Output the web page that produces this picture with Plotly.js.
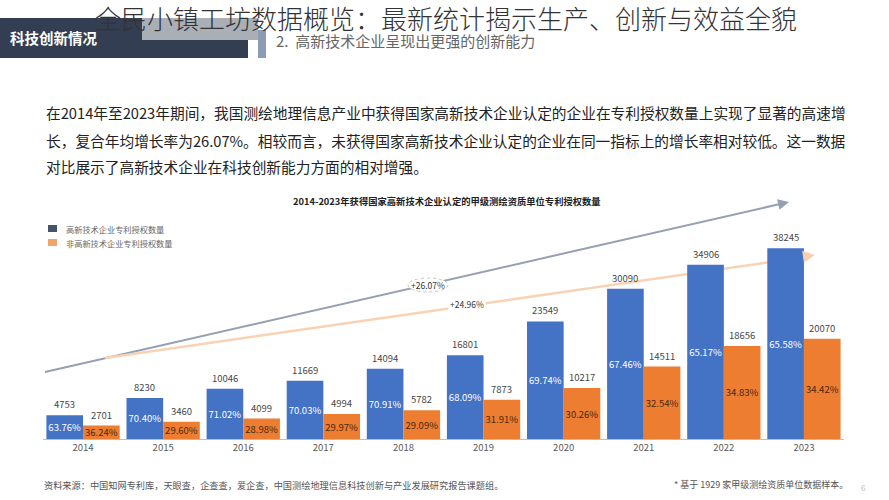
<!DOCTYPE html>
<html><head><meta charset="utf-8">
<script src="https://cdn.plot.ly/plotly-3.0.1.min.js"></script>
<style>html,body{margin:0;padding:0;background:#fff;}#chart{width:889px;height:500px;}</style>
</head><body><div id="chart"></div>
<script>
// ---- data ----
const years = ['2014','2015','2016','2017','2018','2019','2020','2021','2022','2023'];
const highTech = [4753, 8230, 10046, 11669, 14094, 16801, 23549, 30090, 34906, 38245];
const nonHighTech = [2701, 3460, 4099, 4994, 5782, 7873, 10217, 14511, 18656, 20070];
const highTechShare = ['63.76%','70.40%','71.02%','70.03%','70.91%','68.09%','69.74%','67.46%','65.17%','65.58%'];
const nonHighTechShare = ['36.24%','29.60%','28.98%','29.97%','29.09%','31.91%','30.26%','32.54%','34.83%','34.42%'];
const seriesNames = ['高新技术企业专利授权数量', '非高新技术企业专利授权数量'];
const growthLabels = ['+26.07%', '+24.96%'];

const pageTitle = '全民小镇工坊数据概览：最新统计揭示生产、创新与效益全貌';
const sectionTag = '科技创新情况';
const subTitle = '2.  高新技术企业呈现出更强的创新能力';
const paragraph = [
  '在2014年至2023年期间，我国测绘地理信息产业中获得国家高新技术企业认定的企业在专利授权数量上实现了显著的高速增',
  '长，复合年均增长率为26.07%。相较而言，未获得国家高新技术企业认定的企业在同一指标上的增长率相对较低。这一数据',
  '对比展示了高新技术企业在科技创新能力方面的相对增强。'
];
const chartTitle = '2014-2023年获得国家高新技术企业认定的甲级测绘资质单位专利授权数量';
const sourceNote = '资料来源：中国知网专利库，天眼查，企查查，爱企查，中国测绘地理信息科技创新与产业发展研究报告课题组。';
const sampleNote = '* 基于 1929 家甲级测绘资质单位数据样本。';
const pageNo = '6';

// ---- helpers ----
const W = 889, H = 500;
const px = x => x / W, py = y => 1 - y / H;
const FONT = '"Noto Sans CJK SC", "Noto Sans", sans-serif';
const BLUE = '#4472C4', ORANGE = '#ED7D31';
const HALF = 18.3;
const idx = years.map((_, i) => i);

const traces = [
  {type:'bar', x:idx, y:highTech, name:seriesNames[0], marker:{color:BLUE},
   text:highTechShare, textposition:'inside', insidetextanchor:'middle', textangle:0,
   constraintext:'none', textfont:{family:FONT, size:9.5, color:'#ffffff'}, hoverinfo:'skip'},
  {type:'bar', x:idx, y:nonHighTech, name:seriesNames[1], marker:{color:ORANGE},
   text:nonHighTechShare, textposition:'inside', insidetextanchor:'middle', textangle:0,
   constraintext:'none', textfont:{family:FONT, size:9.5, color:'#4a2812'}, hoverinfo:'skip'}
];

const annotations = [];
idx.forEach(i => {
  annotations.push({xref:'x', yref:'y', x:i, y:highTech[i], text:String(highTech[i]), showarrow:false,
    yanchor:'bottom', xshift:-HALF, yshift:2, font:{family:FONT, size:9.5, color:'#474747'}});
  annotations.push({xref:'x', yref:'y', x:i, y:nonHighTech[i], text:String(nonHighTech[i]), showarrow:false,
    yanchor:'bottom', xshift:HALF, yshift:2, font:{family:FONT, size:9.5, color:'#474747'}});
});

// text blocks
annotations.push({xref:'paper', yref:'paper', x:px(8), y:py(38), xanchor:'left', yanchor:'middle', showarrow:false,
  text:'<b>'+sectionTag+'</b>', font:{family:FONT, size:14.5, color:'#ffffff'}});
annotations.push({xref:'paper', yref:'paper', x:px(274), y:py(40.5), xanchor:'left', yanchor:'middle', showarrow:false,
  text:subTitle, font:{family:FONT, size:15, color:'#666666'}});
paragraph.forEach((line, i) => {
  annotations.push({xref:'paper', yref:'paper', x:px(44), y:py([113,140,166][i]), xanchor:'left', yanchor:'middle',
    showarrow:false, text:line, font:{family:FONT, size:14.7, color:'#222222'}});
});
annotations.push({xref:'paper', yref:'paper', x:px(447), y:py(201), xanchor:'center', yanchor:'middle', showarrow:false,
  text:'<b>'+chartTitle+'</b>', font:{family:FONT, size:9.3, color:'#222222'}});
// legend
[228.5, 242.5].forEach((yy, i) => {
  annotations.push({xref:'paper', yref:'paper', x:px(64), y:py(yy), xanchor:'left', yanchor:'middle', showarrow:false,
    text:seriesNames[i], font:{family:FONT, size:8.2, color:'#666666'}});
});
// footer
annotations.push({xref:'paper', yref:'paper', x:px(42), y:py(484.5), xanchor:'left', yanchor:'middle', showarrow:false,
  text:sourceNote, font:{family:FONT, size:9.2, color:'#555555'}});
annotations.push({xref:'paper', yref:'paper', x:px(672), y:py(484.5), xanchor:'left', yanchor:'middle', showarrow:false,
  text:sampleNote, font:{family:FONT, size:9, color:'#555555'}});
annotations.push({xref:'paper', yref:'paper', x:px(863), y:py(487), xanchor:'center', yanchor:'middle', showarrow:false,
  text:pageNo, font:{family:FONT, size:8, color:'#bbbbbb'}});
// growth labels
annotations.push({xref:'paper', yref:'paper', x:px(428), y:py(285), xanchor:'center', yanchor:'middle', showarrow:false,
  text:growthLabels[0], font:{family:FONT, size:8.5, color:'#333333'}});
annotations.push({xref:'paper', yref:'paper', x:px(467), y:py(304), xanchor:'center', yanchor:'middle', showarrow:false,
  text:growthLabels[1], bgcolor:'#ffffff', borderpad:1, font:{family:FONT, size:8.5, color:'#333333'}});
// arrow heads
annotations.push({xref:'paper', yref:'paper', x:px(789), y:py(202), ax:-12, ay:2.8, text:'', showarrow:true,
  arrowhead:2, arrowsize:1.1, arrowwidth:2, arrowcolor:'#95a0b3', standoff:0});
annotations.push({xref:'paper', yref:'paper', x:px(815), y:py(255), ax:-12, ay:1.8, text:'', showarrow:true,
  arrowhead:2, arrowsize:1.1, arrowwidth:2.2, arrowcolor:'#f9cfae', standoff:0});

const shapes = [
  // header blocks
  {type:'rect', xref:'paper', yref:'paper', x0:px(0), x1:px(248), y0:py(58), y1:py(18), fillcolor:'#333e52', line:{width:0}, layer:'below'},
  {type:'rect', xref:'paper', yref:'paper', x0:px(142), x1:px(258), y0:py(40), y1:py(18), fillcolor:'#a9aeb7', line:{width:0}, layer:'below'},
  {type:'rect', xref:'paper', yref:'paper', x0:px(258), x1:px(266), y0:py(58), y1:py(30), fillcolor:'#8d9bb5', line:{width:0}, layer:'below'},
  // legend swatches
  {type:'rect', xref:'paper', yref:'paper', x0:px(48), x1:px(57), y0:py(232), y1:py(225), fillcolor:'#44546a', line:{width:0}},
  {type:'rect', xref:'paper', yref:'paper', x0:px(48), x1:px(57), y0:py(246), y1:py(239), fillcolor:'#f4a468', line:{width:0}},
  // trend lines (behind bars)
  {type:'line', xref:'paper', yref:'paper', x0:px(45), y0:py(372), x1:px(780), y1:py(204), line:{color:'#95a0b3', width:2}, layer:'below'},
  {type:'line', xref:'paper', yref:'paper', x0:px(105), y0:py(358), x1:px(806), y1:py(257), line:{color:'#f9d2b4', width:2.5}, layer:'below'},
  // ellipse for CAGR label
  {type:'circle', xref:'paper', yref:'paper', x0:px(408), x1:px(448), y0:py(292), y1:py(278), fillcolor:'#ffffff', line:{color:'#c4c4c4', width:1, dash:'dot'}, layer:'below'}
];

const layout = {
  width:W, height:H, margin:{l:0,r:0,t:0,b:0}, paper_bgcolor:'#ffffff', plot_bgcolor:'rgba(0,0,0,0)',
  font:{family:FONT},
  title:{text:pageTitle, x:446/W, xanchor:'center', y:1-19.5/H, yanchor:'middle', yref:'container',
         font:{family:FONT, size:26, color:'#333333', weight:300}},
  barmode:'group', bargap:0.085, bargroupgap:0, showlegend:false, hovermode:false,
  xaxis:{domain:[px(43), px(844)], type:'linear', range:[-0.5, 9.5], autorange:false,
         tickmode:'array', tickvals:idx, ticktext:years,
         showline:true, linecolor:'#bfbfbf', linewidth:1, ticks:'',
         showgrid:false, zeroline:false, tickfont:{family:FONT, size:9.5, color:'#595959'}},
  yaxis:{domain:[py(439), py(239.4)], range:[0,40000], autorange:false, visible:false, showgrid:false, zeroline:false},
  shapes:shapes, annotations:annotations
};

Plotly.newPlot('chart', traces, layout, {staticPlot:true, displayModeBar:false});
</script>
</body></html>
